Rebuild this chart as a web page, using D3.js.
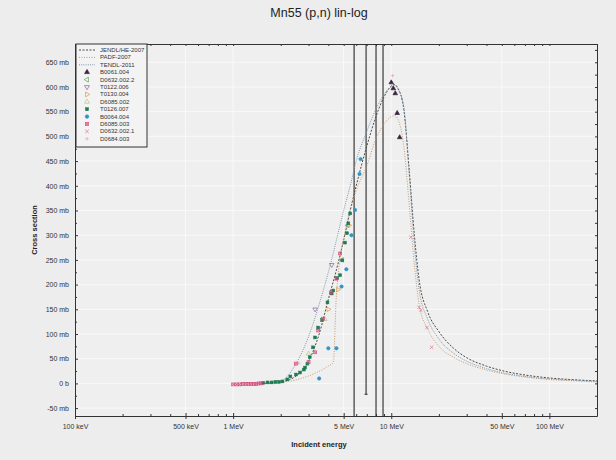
<!DOCTYPE html>
<html lang="en">
  <head>
    <meta charset="UTF-8" />
    <title>Mn55 (p,n) lin-log</title>
    <script src="https://d3js.org/d3.v7.min.js"></script>
    <style>
      body { margin: 0; background: #ececec; }
      svg { display: block; font-family: "Liberation Sans", Arial, sans-serif; }
    </style>
  </head>
  <body>
    <div class="chart"></div>
    <script>
      // evaluated curves, [energy MeV, cross section mb]
      const jendl = [[1.5, 0], [2, 3], [2.5, 15], [3, 45], [3.5, 100], [4, 170], [4.5, 230], [5, 290], [5.5, 350], [6, 400], [7, 480], [8, 540], [9, 580], [10, 602], [10.5, 605], [11, 598], [12, 555], [13, 430], [14, 300], [15, 210], [17, 145], [20, 105], [25, 70], [30, 52], [40, 35], [50, 26], [70, 17], [100, 11], [150, 7], [200, 5]];
      const padf = [[1.5, 0], [2, 2], [3, 15], [4, 35], [4.3, 42], [4.5, 180], [5.3, 330], [6, 390], [7, 440], [8, 495], [9, 525], [10, 540], [10.5, 542], [11, 535], [12, 480], [13, 360], [14, 240], [15, 160], [17, 110], [20, 75], [25, 52], [30, 40], [40, 27], [50, 20], [70, 13], [100, 8], [150, 5], [200, 3]];
      const tendl = [[1.7, 0], [2, 4], [2.5, 40], [3, 95], [3.5, 160], [4, 225], [4.5, 290], [5, 350], [5.5, 400], [6, 450], [7, 510], [8, 555], [9, 585], [10, 600], [10.5, 603], [11, 596], [12, 560], [13, 420], [14, 280], [15, 190], [17, 130], [20, 90], [25, 60], [30, 45], [40, 30], [50, 22], [70, 14], [100, 9], [150, 6], [200, 4]];

      // experimental sets
      const b0061004 = [[10.0, 609], [10.3, 597], [10.6, 587], [10.9, 547], [11.3, 498]];
      const d06320022 = [[4.9, 250], [5.3, 320]];
      const t0122006 = [[3.3, 150], [4.2, 240]];
      const t0130004 = [[4.0, 150], [4.6, 190], [5.4, 320]];
      const d6085002 = [[3.0, 60], [3.8, 130]];
      const t0126007 = [[1.55, 1], [1.65, 2], [1.75, 2], [1.85, 3], [1.95, 3], [2.05, 4], [2.2, 8], [2.3, 14], [2.5, 18], [2.65, 22], [2.8, 28], [2.85, 32], [2.95, 40], [3.05, 53], [3.2, 73], [3.3, 93], [3.45, 113], [3.65, 128], [3.95, 164], [4.2, 182], [4.3, 188], [4.55, 213], [4.75, 219], [4.9, 249], [5.1, 285], [5.25, 304], [5.35, 324], [5.5, 344]];
      const b0064004 = [[3.5, 10], [4.0, 71], [4.5, 71], [4.85, 196], [5.2, 231], [5.6, 300], [5.9, 351], [6.4, 454], [6.3, 424]];
      const d6085003 = [[1.0, -2], [1.05, -2], [1.1, -2], [1.15, -1], [1.2, -1], [1.25, -1], [1.3, -1], [1.35, -1], [1.4, -1], [1.45, 0], [1.5, 0], [2.5, 40], [3.0, 43], [3.3, 63], [3.45, 107], [3.7, 131], [4.15, 184], [4.5, 212], [4.75, 263]];
      const d06320021 = [[13.3, 296], [15.0, 154], [15.4, 148], [16.8, 113], [18.0, 73]];
      const d0684003 = [[10.2, 623], [2.6, 41]];

      // error bars, [energy MeV, low mb, high mb]
      const errorBars = [[5.82, -80, 800], [6.93, -22, 800], [8.01, -80, 800], [8.87, -80, 800]];

      const yTicks = [-50, 0, 50, 100, 150, 200, 250, 300, 350, 400, 450, 500, 550, 600, 650];
      const xTicks = [0.1, 0.5, 1, 5, 10, 50, 100];
      const xTickLabels = ["100 keV", "500 keV", "1 MeV", "5 MeV", "10 MeV", "50 MeV", "100 MeV"];
      const xMinor = [0.2, 0.3, 0.4, 0.6, 0.7, 0.8, 0.9, 2, 3, 4, 6, 7, 8, 9, 20, 30, 40, 60, 70, 80, 90, 200];

      const series = [
        { name: "JENDL/HE-2007", kind: "line", data: jendl, color: "#4a4a4a", dash: "2,1.5" },
        { name: "PADF-2007", kind: "line", data: padf, color: "#c99a72", dash: "1,1.5" },
        { name: "TENDL-2011", kind: "line", data: tendl, color: "#7f95a6", dash: "1,1.2" },
        { name: "B0061.004", kind: "pt", data: b0061004, color: "#3b2440", shape: "triUp", fill: true },
        { name: "D0632.002.2", kind: "pt", data: d06320022, color: "#5aa35a", shape: "triLeft" },
        { name: "T0122.006", kind: "pt", data: t0122006, color: "#9a5aa8", shape: "triDown" },
        { name: "T0130.004", kind: "pt", data: t0130004, color: "#e0964a", shape: "triRight" },
        { name: "D6085.002", kind: "pt", data: d6085002, color: "#a6cf86", shape: "triUp" },
        { name: "T0126.007", kind: "pt", data: t0126007, color: "#1f7a52", shape: "square", fill: true },
        { name: "B0064.004", kind: "pt", data: b0064004, color: "#3194c4", shape: "circle", fill: true },
        { name: "D6085.003", kind: "pt", data: d6085003, color: "#d2467a", shape: "boxX" },
        { name: "D0632.002.1", kind: "pt", data: d06320021, color: "#e07c98", shape: "cross" },
        { name: "D0684.003", kind: "pt", data: d0684003, color: "#e3a9b8", shape: "plus" },
      ];

      const width = 616;
      const height = 460;
      const plot = { left: 75, right: 597, top: 44, bottom: 416 };

      const svg = d3
        .select(".chart")
        .append("svg")
        .attr("width", width)
        .attr("height", height);

      svg.append("rect").attr("width", width).attr("height", height).attr("fill", "#ededed");

      const xScale = d3.scaleLog().domain([0.1, 200]).range([plot.left, plot.right]);
      const yScale = d3.scaleLinear().domain([-66, 687]).range([plot.bottom, plot.top]);

      svg
        .append("rect")
        .attr("x", plot.left)
        .attr("y", plot.top)
        .attr("width", plot.right - plot.left)
        .attr("height", plot.bottom - plot.top)
        .attr("fill", "#efefef");

      svg
        .append("defs")
        .append("clipPath")
        .attr("id", "clip")
        .append("rect")
        .attr("x", plot.left)
        .attr("y", plot.top)
        .attr("width", plot.right - plot.left)
        .attr("height", plot.bottom - plot.top);

      // grid
      const grid = svg.append("g").attr("stroke", "#f9f9f9").attr("stroke-width", 1);
      grid
        .selectAll("line.h")
        .data(yTicks)
        .join("line")
        .attr("x1", plot.left)
        .attr("x2", plot.right)
        .attr("y1", (d) => yScale(d))
        .attr("y2", (d) => yScale(d));
      grid
        .selectAll("line.v")
        .data(xTicks.slice(1))
        .join("line")
        .attr("x1", (d) => xScale(d))
        .attr("x2", (d) => xScale(d))
        .attr("y1", plot.top)
        .attr("y2", plot.bottom);

      // title
      svg
        .append("text")
        .attr("x", 319)
        .attr("y", 17)
        .attr("text-anchor", "middle")
        .attr("font-size", 12.5)
        .attr("fill", "#222")
        .text("Mn55 (p,n) lin-log");

      // axes
      const xAxis = svg
        .append("g")
        .attr("transform", `translate(0,${plot.bottom})`)
        .call(d3.axisBottom(xScale).tickValues(xTicks).tickFormat((d, i) => xTickLabels[i]).tickSizeInner(3).tickSizeOuter(0).tickPadding(5));
      xAxis.selectAll(".tick line").attr("y1", -3);
      svg
        .append("g")
        .attr("transform", `translate(0,${plot.bottom})`)
        .call(d3.axisBottom(xScale).tickValues(xMinor).tickFormat("").tickSizeInner(-2).tickSizeOuter(0))
        .select(".domain")
        .remove();

      const yAxis = svg
        .append("g")
        .attr("transform", `translate(${plot.left},0)`)
        .call(d3.axisLeft(yScale).tickValues(yTicks).tickFormat((d) => (d === 0 ? "0 b" : `${d} mb`)).tickSizeInner(4).tickSizeOuter(0).tickPadding(2));
      yAxis.selectAll(".tick line").attr("x2", 3);
      const yMinor = yTicks.map((d) => d + 25);
      svg
        .append("g")
        .attr("transform", `translate(${plot.left},0)`)
        .call(d3.axisLeft(yScale).tickValues(yMinor).tickFormat("").tickSizeInner(-2).tickSizeOuter(0))
        .select(".domain")
        .remove();
      svg
        .append("g")
        .attr("transform", `translate(${plot.right},0)`)
        .call(d3.axisRight(yScale).tickValues(yTicks.concat(yMinor)).tickFormat("").tickSizeInner(-2).tickSizeOuter(0));
      svg
        .append("g")
        .attr("transform", `translate(0,${plot.top})`)
        .call(d3.axisTop(xScale).tickValues(xTicks.concat(xMinor)).tickFormat("").tickSizeInner(-2).tickSizeOuter(0));

      svg.selectAll(".domain").attr("stroke", "#333");
      svg.selectAll(".tick line").attr("stroke", "#333");
      svg.selectAll(".tick text").attr("font-size", 7).attr("fill", "#333").attr("font-family", "Liberation Sans, Arial, sans-serif");

      svg
        .append("text")
        .attr("x", 319)
        .attr("y", 447)
        .attr("text-anchor", "middle")
        .attr("font-size", 7.5)
        .attr("font-weight", "bold")
        .attr("fill", "#222")
        .text("Incident energy");
      svg
        .append("text")
        .attr("transform", "translate(37,230) rotate(-90)")
        .attr("text-anchor", "middle")
        .attr("font-size", 7.5)
        .attr("font-weight", "bold")
        .attr("fill", "#222")
        .text("Cross section");

      // marker shapes
      const drawMarker = (g, s, x, y, r) => {
        const col = s.color;
        const fill = s.fill ? col : "none";
        if (s.shape === "circle") {
          g.append("circle").attr("cx", x).attr("cy", y).attr("r", r).attr("fill", fill).attr("stroke", col).attr("stroke-width", 0.6);
        } else if (s.shape === "square") {
          g.append("rect").attr("x", x - r * 0.85).attr("y", y - r * 0.85).attr("width", r * 1.7).attr("height", r * 1.7).attr("fill", fill).attr("stroke", col).attr("stroke-width", 0.5);
        } else if (s.shape === "boxX") {
          g.append("rect").attr("x", x - r * 0.85).attr("y", y - r * 0.85).attr("width", r * 1.7).attr("height", r * 1.7).attr("fill", "none").attr("stroke", col).attr("stroke-width", 0.7);
          g.append("path").attr("d", `M${x - r * 0.85},${y - r * 0.85}L${x + r * 0.85},${y + r * 0.85}M${x + r * 0.85},${y - r * 0.85}L${x - r * 0.85},${y + r * 0.85}`).attr("stroke", col).attr("stroke-width", 0.7);
        } else if (s.shape === "cross") {
          g.append("path").attr("d", `M${x - r},${y - r}L${x + r},${y + r}M${x + r},${y - r}L${x - r},${y + r}`).attr("stroke", col).attr("stroke-width", 0.8);
        } else if (s.shape === "plus") {
          g.append("path").attr("d", `M${x - r},${y}L${x + r},${y}M${x},${y - r}L${x},${y + r}`).attr("stroke", col).attr("stroke-width", 0.8);
        } else {
          const rot = { triUp: 0, triRight: 90, triDown: 180, triLeft: 270 }[s.shape];
          g.append("path")
            .attr("d", d3.symbol(d3.symbolTriangle, r * r * 3.2)())
            .attr("transform", `translate(${x},${y}) rotate(${rot})`)
            .attr("fill", fill)
            .attr("stroke", col)
            .attr("stroke-width", 0.7);
        }
      };

      const area = svg.append("g").attr("clip-path", "url(#clip)");

      // error bars
      area
        .selectAll("line.err")
        .data(errorBars)
        .join("line")
        .attr("x1", (d) => xScale(d[0]))
        .attr("x2", (d) => xScale(d[0]))
        .attr("y1", (d) => yScale(d[1]))
        .attr("y2", (d) => yScale(d[2]))
        .attr("stroke", "#2a2a2a")
        .attr("stroke-width", 1.1);
      area
        .selectAll("line.cap")
        .data(errorBars)
        .join("line")
        .attr("x1", (d) => xScale(d[0]) - 1.5)
        .attr("x2", (d) => xScale(d[0]) + 1.5)
        .attr("y1", (d) => yScale(d[1]))
        .attr("y2", (d) => yScale(d[1]))
        .attr("stroke", "#2a2a2a");

      const line = d3
        .line()
        .x((d) => xScale(d[0]))
        .y((d) => yScale(d[1]))
        .curve(d3.curveMonotoneX);

      series
        .filter((s) => s.kind === "line")
        .forEach((s) => {
          area.append("path").attr("d", line(s.data)).attr("fill", "none").attr("stroke", s.color).attr("stroke-width", 1).attr("stroke-dasharray", s.dash);
        });

      series
        .filter((s) => s.kind === "pt")
        .forEach((s) => {
          const g = area.append("g");
          s.data.forEach((d) => drawMarker(g, s, xScale(d[0]), yScale(d[1]), 1.7));
        });

      // legend
      const legend = svg.append("g");
      legend
        .append("rect")
        .attr("x", plot.left + 1)
        .attr("y", plot.top)
        .attr("width", 71)
        .attr("height", 103)
        .attr("fill", "#f3f3f3")
        .attr("stroke", "#333");
      series.forEach((s, i) => {
        const y = 50 + i * 7.4;
        if (s.kind === "line") {
          legend.append("line").attr("x1", 79).attr("x2", 95).attr("y1", y).attr("y2", y).attr("stroke", s.color).attr("stroke-dasharray", s.dash);
        } else {
          drawMarker(legend, s, 87, y, 1.8);
        }
        legend
          .append("text")
          .attr("x", 100)
          .attr("y", y + 2)
          .attr("font-size", 6)
          .attr("fill", "#333")
          .text(s.name);
      });
    </script>
  </body>
</html>
